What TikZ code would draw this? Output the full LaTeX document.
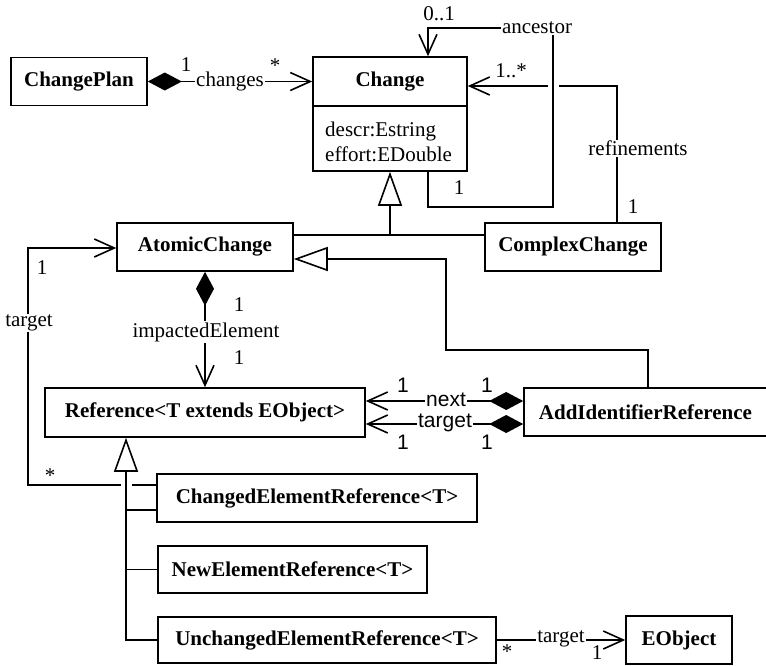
\documentclass[tikz,border=0pt]{standalone}
\usepackage{fontspec}
\setmainfont{Liberation Serif}
\newfontfamily\sansf{Liberation Sans}
\usetikzlibrary{arrows.meta,calc}
\begin{document}
\begin{tikzpicture}[x=1pt,y=-1pt,
  every node/.style={font=\fontsize{21}{25}\selectfont},
  box/.style={draw, line width=1.6pt, fill=white, font=\fontsize{21}{25}\selectfont\bfseries,
    minimum height=48pt, inner sep=0pt},
  lbl/.style={fill=white, inner sep=1pt},
  mult/.style={inner sep=0pt},
  conn/.style={line width=1.6pt, line join=miter},
  assoc/.style={conn, -{Straight Barb[length=20pt,width=18pt]}},
  comp/.style={conn, {Diamond[length=34pt,width=18pt]}-{Straight Barb[length=20pt,width=18pt]}},
  gen/.style={conn, -{Triangle[length=34pt,width=24pt,fill=white]}},
  gap/.style={white, line width=11pt},
  sanslbl/.style={font=\fontsize{21}{25}\sansf},
]
\useasboundingbox (0,0) rectangle (766,665);

% classes
\node[box, minimum width=136pt] (cp) at (79,81.5) {ChangePlan};
\node[box, minimum width=154pt, minimum height=49pt] (chT) at (390,81.5) {Change};
\node[box, minimum width=154pt, minimum height=65pt] (chA) at (390,138.5) {};
\node[anchor=west, inner sep=0pt, align=left] (attrs) at (325,142) {descr:Estring\\effort:EDouble};
\node[box, minimum width=176pt] (ac) at (205,247) {AtomicChange};
\node[box, minimum width=176pt] (cc) at (573,247) {ComplexChange};
\node[box, minimum width=320pt, minimum height=49pt] (ref) at (205,412.5) {Reference<T extends EObject>};
\node[box, minimum width=243pt] (air) at (645.5,412) {AddIdentifierReference};
\node[box, minimum width=320pt] (cer) at (317,498) {ChangedElementReference<T>};
\node[box, minimum width=269pt, minimum height=47pt] (ner) at (292.5,569.5) {NewElementReference<T>};
\node[box, minimum width=338pt, minimum height=46pt] (uer) at (327,640) {UnchangedElementReference<T>};
\node[box, minimum width=106pt] (eo) at (679,640) {EObject};

% bend points
\coordinate (a1) at (428,207);
\coordinate (a2) at (553,207);
\coordinate (a3) at (553,28);
\coordinate (a4) at (428,28);
\coordinate (r1) at (617,86);
\coordinate (g1) at (390,235);
\coordinate (h1) at (648,350);
\coordinate (h2) at (446,350);
\coordinate (h3) at (446,259);
\coordinate (n1) at (0,401);
\coordinate (n2) at (0,424);
\coordinate (t1) at (28,485);
\coordinate (t2) at (28,248);
\coordinate (s1) at (126,640);
\coordinate (b1) at (126,510);

% ChangePlan -- changes --> Change
\draw[comp] (cp.east) -- (chT.west);
\node[lbl] (lchanges) at (230,81) {changes};
\node[mult] (m1) at (186,65) {1};
\node[mult] (m2) at (275,66) {*};

% refinements
\draw[assoc] (cc.north -| r1) -- (r1) -- (chT.east |- r1);
\node[lbl] (lref) at (638,148) {refinements};
\node[mult] (m3) at (511,71) {1..*};
\node[mult] (m4) at (633,207) {1};

% ancestor (crossing the refinements line)
\draw[gap] (553,79) -- (553,93);
\draw[assoc] (chA.south -| a1) -- (a1) -- (a2) -- (a3) -- (a4) -- (chT.north -| a4);
\node[lbl] (lanc) at (537,28) {ancestor};
\node[mult] (m5) at (439,14) {0..1};
\node[mult] (m6) at (459,188) {1};

% generalisation to Change
\draw[conn] (ac.east |- g1) -- (cc.west |- g1);
\draw[gen] (g1) -- (chA.south -| g1);

% generalisation AddIdentifierReference -> AtomicChange
\draw[gen] (air.north -| h1) -- (h1) -- (h2) -- (h3) -- (ac.east |- h3);

% impactedElement
\draw[comp] (ac.south) -- (ref.north);
\node[lbl] (limp) at (206,332) {impactedElement};
\node[mult] (m7) at (239,305) {1};
\node[mult] (m8) at (239,358) {1};

% next / target
\draw[comp] (air.west |- n1) -- (ref.east |- n1);
\draw[comp] (air.west |- n2) -- (ref.east |- n2);
\node[lbl, sanslbl] (lnext) at (446,400) {next};
\node[lbl, sanslbl] (ltgt) at (445,423) {target};
\node[mult, sanslbl] (m9) at (403,385) {1};
\node[mult, sanslbl] (m10) at (487,385) {1};
\node[mult, sanslbl] (m11) at (403,442) {1};
\node[mult, sanslbl] (m12) at (487,442) {1};

% target: ChangedElementReference -> AtomicChange
\draw[assoc] (cer.west |- t1) -- (t1) -- (t2) -- (ac.west |- t2);
\node[lbl] (ltarget) at (29,323) {target};
\node[mult] (m13) at (42,268) {1};
\node[mult] (m14) at (50,476) {*};

% generalisation to Reference
\draw[gap] (126,479) -- (126,491);
\draw[gen] (uer.west) -- (s1) -- (ref.south -| s1);
\draw[conn] (cer.west |- b1) -- (b1);
\draw[conn] (ner.west) -- (ner.west -| s1);

% UnchangedElementReference -> EObject
\draw[assoc] (uer.east) -- (eo.west);
\node[lbl] (ltarget2) at (561,639) {target};
\node[mult] (m15) at (507,652) {*};
\node[mult] (m16) at (597,653) {1};
\end{tikzpicture}
\end{document}
